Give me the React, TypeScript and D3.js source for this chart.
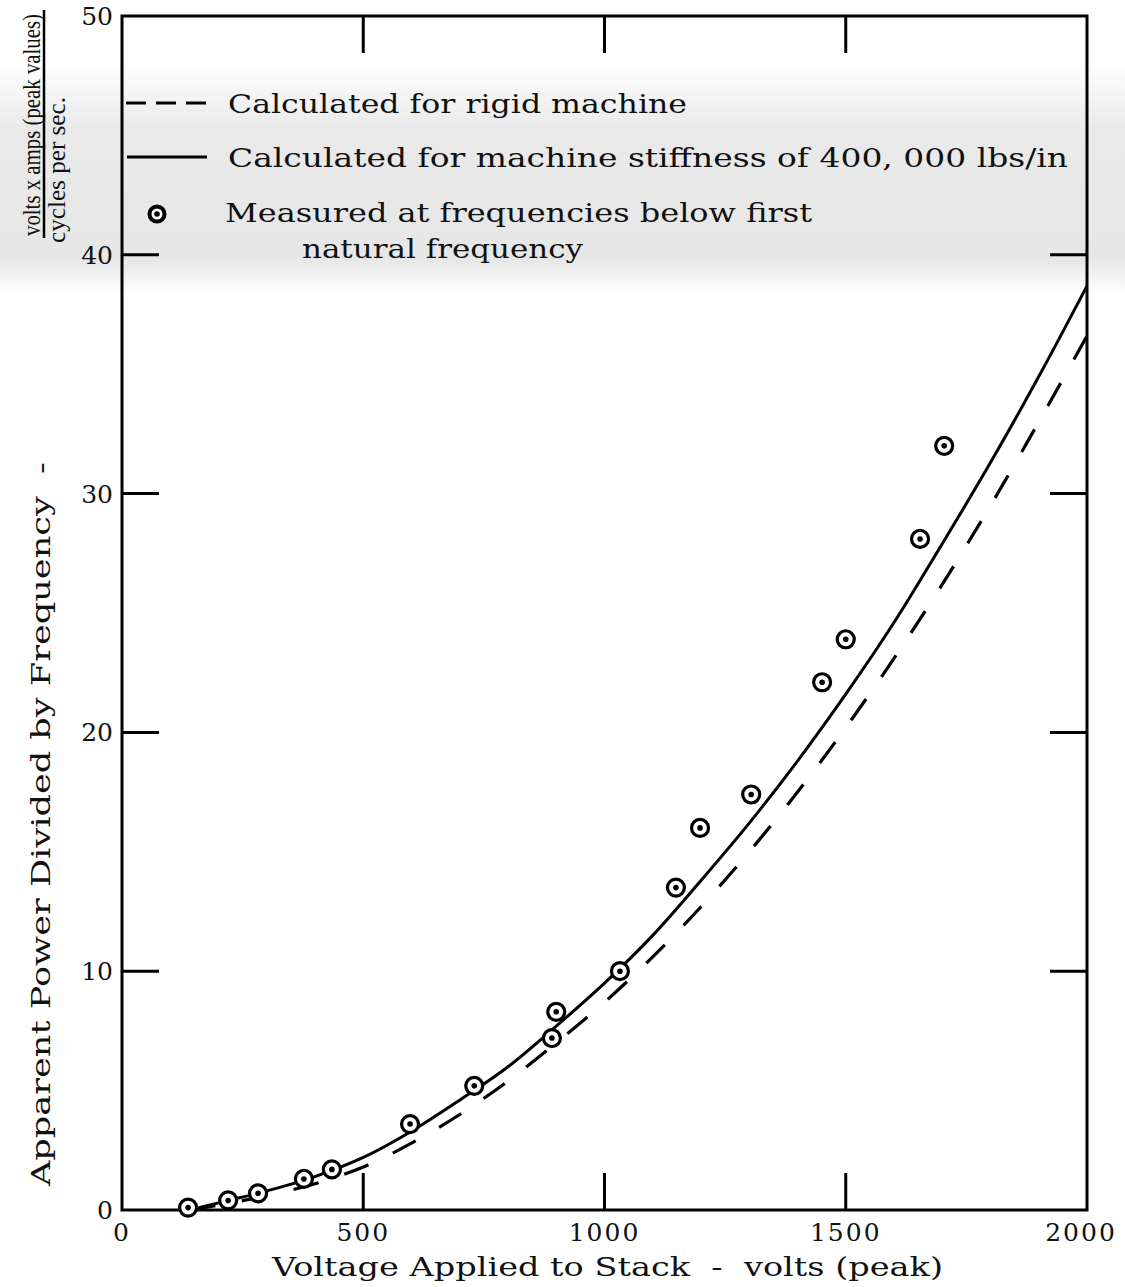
import React from "react";
import * as d3 from "d3";

const xTicks = [0, 500, 1000, 1500, 2000];
const yTicks = [0, 10, 20, 30, 40, 50];
const innerXTicks = [500, 1000, 1500];
const innerYTicks = [10, 20, 30, 40];

const curveV = [140, 200, 300, 400, 500, 600, 700, 800, 900, 1000, 1100, 1200, 1300, 1400, 1500, 1600, 1700, 1800, 1900, 2000];
const stiffVals = [0, 0.3, 0.8, 1.4, 2.2, 3.3, 4.6, 6.0, 7.7, 9.5, 11.5, 13.8, 16.2, 18.8, 21.6, 24.6, 27.9, 31.3, 34.9, 38.7];
const rigidVals = [0, 0.2, 0.6, 1.1, 1.8, 2.8, 4.0, 5.4, 7.0, 8.7, 10.6, 12.7, 15.0, 17.5, 20.2, 23.1, 26.2, 29.5, 33.0, 36.6];

const measV = [137, 220, 282, 377, 435, 597, 730, 891, 900, 1032, 1148, 1198, 1304, 1451, 1500, 1654, 1704];
const measVals = [0.1, 0.4, 0.7, 1.3, 1.7, 3.6, 5.2, 7.2, 8.3, 10.0, 13.5, 16.0, 17.4, 22.1, 23.9, 28.1, 32.0];

const legendLabels = [
  "Calculated for rigid machine",
  "Calculated for machine stiffness of 400, 000 lbs/in",
  "Measured at frequencies below first",
  "natural frequency",
];

const FONT = "'DejaVu Serif', 'Liberation Serif', serif";
const FONT2 = "'Liberation Serif', 'DejaVu Serif', serif";

export default function App() {
  const W = 1125, H = 1287;
  const x = d3.scaleLinear().domain([0, 2000]).range([122, 1087]);
  const y = d3.scaleLinear().domain([0, 50]).range([1210, 16]);
  const line = d3
    .line<number>()
    .x((_, i) => x(curveV[i]))
    .y((d) => y(d))
    .curve(d3.curveCatmullRom);
  const x0 = x(0), x1 = x(2000), y0 = y(0), y1 = y(50);
  const tickLen = 37;
  return (
    <svg width={W} height={H} style={{ position: "absolute", left: 0, top: 0, background: "#fff" }}>
      <defs>
        <linearGradient id="band" x1="0" y1="0" x2="0" y2="1">
          <stop offset="0" stopColor="#e4e4e4" stopOpacity="0" />
          <stop offset="0.3" stopColor="#e4e4e4" stopOpacity="0.8" />
          <stop offset="0.85" stopColor="#e4e4e4" stopOpacity="0.9" />
          <stop offset="1" stopColor="#e4e4e4" stopOpacity="0" />
        </linearGradient>
      </defs>
      <rect x={0} y={60} width={W} height={235} fill="url(#band)" />
      {/* frame */}
      <rect x={x0} y={y1} width={x1 - x0} height={y0 - y1} fill="none" stroke="#000" strokeWidth={3} />
      {innerXTicks.map((t) => (
        <g key={"xt" + t}>
          <line x1={x(t)} x2={x(t)} y1={y0} y2={y0 - tickLen} stroke="#000" strokeWidth={3} />
          <line x1={x(t)} x2={x(t)} y1={y1} y2={y1 + tickLen} stroke="#000" strokeWidth={3} />
        </g>
      ))}
      {innerYTicks.map((t) => (
        <g key={"yt" + t}>
          <line x1={x0} x2={x0 + tickLen} y1={y(t)} y2={y(t)} stroke="#000" strokeWidth={3} />
          <line x1={x1} x2={x1 - tickLen} y1={y(t)} y2={y(t)} stroke="#000" strokeWidth={3} />
        </g>
      ))}
      {/* tick labels */}
      {yTicks.map((t) => (
        <text key={"yl" + t} x={113} y={y(t) + 9} textAnchor="end" fontFamily={FONT} fontSize={25} fill="#111">
          {t}
        </text>
      ))}
      {xTicks.map((t) => (
        <text
          key={"xl" + t}
          x={t === 2000 ? x(t) - 6 : x(t)}
          y={1241}
          textAnchor="middle"
          fontFamily={FONT}
          fontSize={25}
          fill="#111"
          letterSpacing={2}
        >
          {t}
        </text>
      ))}
      {/* curves */}
      <path d={line(rigidVals) || ""} fill="none" stroke="#000" strokeWidth={3.2} strokeDasharray="26 27" />
      <path d={line(stiffVals) || ""} fill="none" stroke="#000" strokeWidth={3} />
      {/* measured points */}
      {measV.map((v, i) => (
        <g key={"m" + i}>
          <circle cx={x(v)} cy={y(measVals[i])} r={8.5} fill="#fff" stroke="#000" strokeWidth={3.2} />
          <circle cx={x(v)} cy={y(measVals[i])} r={2.8} fill="#000" />
        </g>
      ))}
      {/* legend */}
      <line x1={126} x2={207} y1={103} y2={103} stroke="#000" strokeWidth={3} strokeDasharray="20 10" />
      <text x={228} y={113} fontFamily={FONT} fontSize={26} fill="#111" textLength={459} lengthAdjust="spacingAndGlyphs">
        {legendLabels[0]}
      </text>
      <line x1={127} x2={207} y1={157} y2={157} stroke="#000" strokeWidth={3} />
      <text x={228} y={167} fontFamily={FONT} fontSize={26} fill="#111" textLength={840} lengthAdjust="spacingAndGlyphs">
        {legendLabels[1]}
      </text>
      <circle cx={157} cy={214} r={7.5} fill="#fff" stroke="#000" strokeWidth={4} />
      <circle cx={157} cy={214} r={2.8} fill="#000" />
      <text x={225} y={222} fontFamily={FONT} fontSize={26} fill="#111" textLength={587} lengthAdjust="spacingAndGlyphs">
        {legendLabels[2]}
      </text>
      <text x={302} y={258} fontFamily={FONT} fontSize={26} fill="#111" textLength={281} lengthAdjust="spacingAndGlyphs">
        {legendLabels[3]}
      </text>
      {/* x axis title */}
      <text x={272} y={1276} fontFamily={FONT} fontSize={26} fill="#111" textLength={671} lengthAdjust="spacingAndGlyphs" xmlSpace="preserve">
        {"Voltage Applied to Stack  -  volts (peak)"}
      </text>
      {/* y axis title */}
      <text
        transform={`translate(50,1186) rotate(-90)`}
        fontFamily={FONT}
        fontSize={26}
        fill="#111"
        textLength={724}
        lengthAdjust="spacingAndGlyphs"
        xmlSpace="preserve"
      >
        {"Apparent Power Divided by Frequency  -"}
      </text>
      <text
        transform={`translate(40,236) rotate(-90)`}
        fontFamily={FONT2}
        fontSize={25}
        fill="#111"
        textLength={222}
        lengthAdjust="spacingAndGlyphs"
      >
        volts x amps (peak values)
      </text>
      <line x1={44} x2={44} y1={10} y2={238} stroke="#000" strokeWidth={2.5} />
      <text
        transform={`translate(65,243) rotate(-90)`}
        fontFamily={FONT2}
        fontSize={25}
        fill="#111"
        textLength={146}
        lengthAdjust="spacingAndGlyphs"
      >
        cycles per sec.
      </text>
    </svg>
  );
}
